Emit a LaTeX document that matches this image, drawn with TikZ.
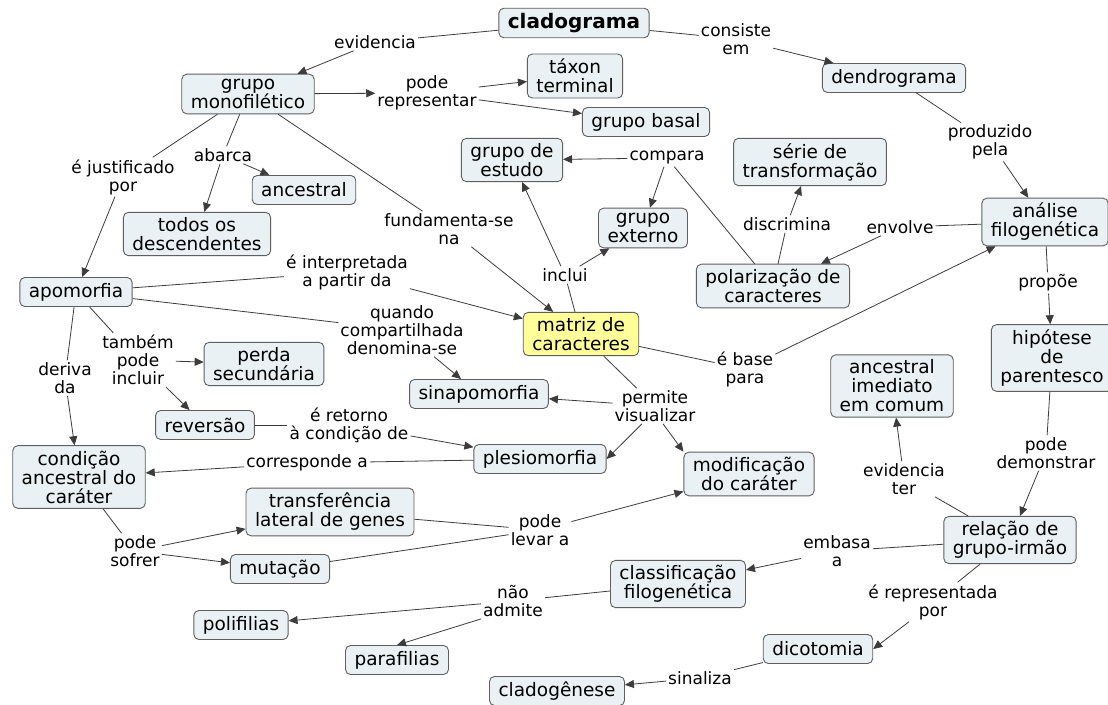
\documentclass[tikz,border=0pt]{standalone}
\usepackage{fontspec}
\setmainfont{DejaVu Sans}
\usetikzlibrary{arrows.meta}
\definecolor{cmapfill}{RGB}{233,241,244}
\definecolor{cmapedge}{RGB}{95,95,95}
\definecolor{cmapyellow}{RGB}{255,255,153}
\definecolor{cmapline}{RGB}{60,60,60}
\newcommand\conceptfont{\fontsize{18.5}{19}\selectfont}
\newcommand\linkfont{\fontsize{17}{18}\selectfont}

\begin{document}
\begin{tikzpicture}[x=1pt,y=-1pt,
  >={Triangle[length=9pt,width=8pt]},
  concept/.style={draw=cmapedge,fill=cmapfill,rounded corners=5pt,line width=0.9pt,
    inner xsep=9pt,inner ysep=5pt,minimum height=29pt,align=center,font=\conceptfont},
  keyconcept/.style={concept,fill=cmapyellow},
  linkphrase/.style={inner sep=2pt,align=center,font=\linkfont},
  tie/.style={draw=cmapline,line width=0.8pt}]
\path [fill=white] (0,0) rectangle (1108,704);
\useasboundingbox (0,0) rectangle (1108,704);

% concepts
\node [concept,font=\fontsize{20}{21}\selectfont\bfseries] (clado) at (574,23) {cladograma};
\node [concept] (mono) at (248,94) {grupo\\monofilético};
\node [concept] (taxon) at (575,76) {táxon\\terminal};
\node [concept] (basal) at (646,122) {grupo basal};
\node [concept] (dendro) at (894,78) {dendrograma};
\node [concept] (estudo) at (512,160) {grupo de\\estudo};
\node [concept] (serie) at (810,162) {série de\\transformação};
\node [concept] (ancestral) at (304,190) {ancestral};
\node [concept] (todos) at (197,234) {todos os\\descendentes};
\node [concept] (externo) at (643,228) {grupo\\externo};
\node [concept] (analise) at (1045,222) {análise\\filogenética};
\node [concept] (polar) at (773,286) {polarização de\\caracteres};
\node [concept] (apo) at (76,292) {apomorfia};
\node [keyconcept] (matriz) at (581,334) {matriz de\\caracteres};
\node [concept] (hipo) at (1052,358) {hipótese\\de\\parentesco};
\node [concept] (perda) at (264,364) {perda\\secundária};
\node [concept] (sinapo) at (479,394) {sinapomorfia};
\node [concept] (imediato) at (892,386) {ancestral\\imediato\\em comum};
\node [concept] (rever) at (205,425) {reversão};
\node [concept] (plesio) at (540,459) {plesiomorfia};
\node [concept] (condicao) at (79,477) {condição\\ancestral do\\caráter};
\node [concept] (modif) at (749,474) {modificação\\do caráter};
\node [concept] (transf) at (330,512) {transferência\\lateral de genes};
\node [concept] (mutacao) at (280,569) {mutação};
\node [concept] (classif) at (678,584) {classificação\\filogenética};
\node [concept] (irmao) at (1010,540) {relação de\\grupo-irmão};
\node [concept] (poli) at (241,625) {polifilias};
\node [concept] (para) at (397,660) {parafilias};
\node [concept] (dico) at (818,649) {dicotomia};
\node [concept] (cladogen) at (557,691) {cladogênese};

% linking phrases
\node [linkphrase] (l_evid) at (375,42) {evidencia};
\node [linkphrase] (l_consiste) at (736,39) {consiste\\em};
\node [linkphrase] (l_repr) at (427,93) {pode\\representar};
\node [linkphrase] (l_compara) at (667,158) {compara};
\node [linkphrase] (l_justif) at (123,177) {é justificado\\por};
\node [linkphrase] (l_abarca) at (223,155) {abarca};
\node [linkphrase] (l_fund) at (449,229) {fundamenta-se\\na};
\node [linkphrase] (l_discr) at (787,224) {discrimina};
\node [linkphrase] (l_envolve) at (900,227) {envolve};
\node [linkphrase] (l_produz) at (990,142) {produzido\\pela};
\node [linkphrase] (l_inclui) at (565,275) {inclui};
\node [linkphrase] (l_interp) at (347,272) {é interpretada\\a partir da};
\node [linkphrase] (l_quando) at (402,330) {quando\\compartilhada\\denomina-se};
\node [linkphrase] (l_tambem) at (138,360) {também\\pode\\incluir};
\node [linkphrase] (l_deriva) at (65,378) {deriva\\da};
\node [linkphrase] (l_base) at (745,369) {é base\\para};
\node [linkphrase] (l_propoe) at (1048,283) {propõe};
\node [linkphrase] (l_permite) at (655,406) {permite\\visualizar};
\node [linkphrase] (l_retorno) at (349,425) {é retorno\\à condição de};
\node [linkphrase] (l_corresp) at (307,463) {corresponde a};
\node [linkphrase] (l_demonstr) at (1046,453) {pode\\demonstrar};
\node [linkphrase] (l_evter) at (904,479) {evidencia\\ter};
\node [linkphrase] (l_sofrer) at (135,551) {pode\\sofrer};
\node [linkphrase] (l_levar) at (540,530) {pode\\levar a};
\node [linkphrase] (l_embasa) at (837,551) {embasa\\a};
\node [linkphrase] (l_admite) at (513,601) {não\\admite};
\node [linkphrase] (l_reprpor) at (933,602) {é representada\\por};
\node [linkphrase] (l_sinaliza) at (700,678) {sinaliza};

% top part
\draw [tie] (clado) -- (l_evid);
\draw [tie,->] (l_evid) -- (mono);
\draw [tie] (clado) -- (l_consiste);
\draw [tie,->] (l_consiste) -- (dendro);
\draw [tie,->] (mono) -- (l_repr);
\draw [tie,->] (l_repr) -- (taxon);
\draw [tie,->] (l_repr) -- (basal);
\draw [tie] (mono) -- (l_justif);
\draw [tie,->] (l_justif) -- (apo);
\draw [tie] (mono) -- (l_abarca);
\draw [tie,->] (l_abarca) -- (todos);
\draw [tie,->] (l_abarca) -- (ancestral);
\draw [tie] (mono) -- (l_fund);
\draw [tie,->] (l_fund) -- (matriz);
\draw [tie] (matriz) -- (l_inclui);
\draw [tie,->] (l_inclui) -- (estudo);
\draw [tie,->] (l_inclui) -- (externo);
\draw [tie] (polar) -- (l_compara);
\draw [tie,->] (l_compara) -- (estudo);
\draw [tie,->] (l_compara) -- (externo);
\draw [tie] (polar) -- (l_discr);
\draw [tie,->] (l_discr) -- (serie);
\draw [tie] (analise) -- (l_envolve);
\draw [tie,->] (l_envolve) -- (polar);
\draw [tie] (dendro) -- (l_produz);
\draw [tie,->] (l_produz) -- (analise);
% right part
\draw [tie] (analise) -- (l_propoe);
\draw [tie,->] (l_propoe) -- (hipo);
\draw [tie] (hipo) -- (l_demonstr);
\draw [tie,->] (l_demonstr) -- (irmao);
\draw [tie] (irmao) -- (l_evter);
\draw [tie,->] (l_evter) -- (imediato);
\draw [tie] (irmao) -- (l_embasa);
\draw [tie,->] (l_embasa) -- (classif);
\draw [tie] (irmao) -- (l_reprpor);
\draw [tie,->] ([xshift=-24pt]l_reprpor.south) -- (dico.east);
\draw [tie] (dico) -- (l_sinaliza);
\draw [tie,->] (l_sinaliza) -- (cladogen);
\draw [tie] (classif) -- (l_admite);
\draw [tie,->] (l_admite) -- (poli);
\draw [tie,->] (l_admite.south west) -- (para.north);
% around the matrix
\draw [tie] (matriz) -- (l_base);
\draw [tie,->] (l_base) -- (analise);
\draw [tie] (matriz) -- (l_permite);
\draw [tie,->] (l_permite) -- (sinapo);
\draw [tie,->] ([xshift=-13pt]l_permite.south) -- (plesio.east);
\draw [tie,->] ([xshift=8pt]l_permite.south) -- (modif.north west);
% left part
\draw [tie] (apo) -- (l_interp);
\draw [tie,->] (l_interp) -- (matriz);
\draw [tie] (apo) -- (l_quando);
\draw [tie,->] (l_quando) -- (sinapo);
\draw [tie] (apo) -- (l_tambem);
\draw [tie,->] (l_tambem) -- (perda);
\draw [tie,->] (l_tambem) -- (rever);
\draw [tie] (apo) -- (l_deriva);
\draw [tie,->] (l_deriva) -- (condicao);
\draw [tie] (rever) -- (l_retorno);
\draw [tie,->] (l_retorno) -- (plesio);
\draw [tie] (plesio) -- (l_corresp);
\draw [tie,->] (l_corresp) -- (condicao);
\draw [tie] (condicao) -- (l_sofrer);
\draw [tie,->] (l_sofrer) -- (transf);
\draw [tie,->] (l_sofrer) -- (mutacao);
\draw [tie] (transf) -- (l_levar);
\draw [tie] (mutacao) -- (l_levar);
\draw [tie,->] (l_levar) -- (modif);
\end{tikzpicture}
\end{document}
